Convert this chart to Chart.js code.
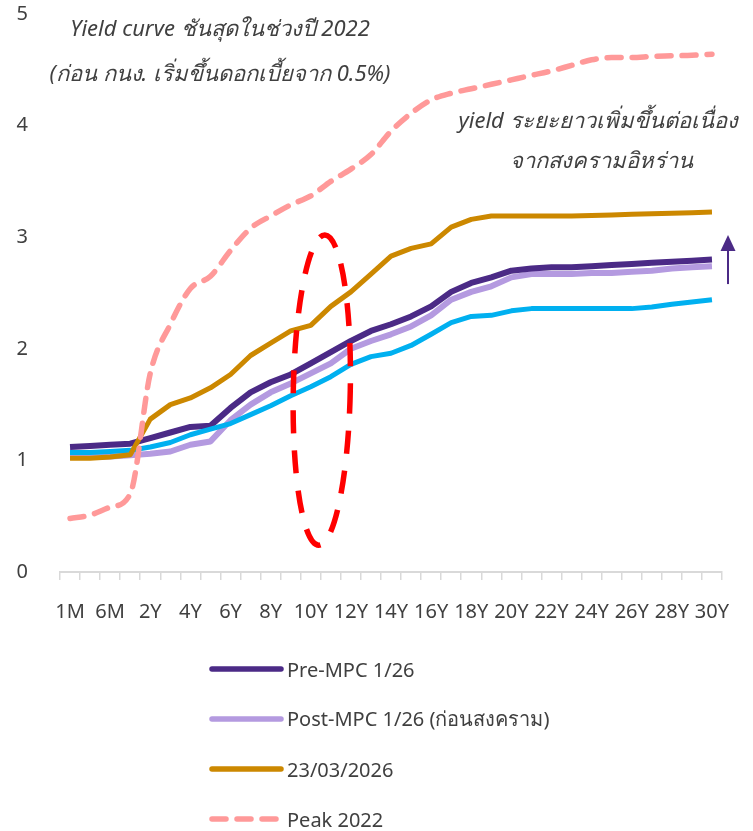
<!DOCTYPE html>
<html>
<head>
<meta charset="utf-8">
<script src="https://cdn.jsdelivr.net/npm/chart.js@4.4.1/dist/chart.umd.min.js"></script>
<style>
    body { margin: 0; background: #fff; font-family: "Noto Sans", "DejaVu Sans", sans-serif; color: #404040; }
    #wrap { position: relative; width: 753px; height: 831px; overflow: hidden; }
    #chartBox { position: absolute; left: 0; top: -30px; width: 753px; height: 675px; }
    .note { position: absolute; font-style: italic; font-size: 22px; white-space: nowrap; transform: translate(-50%, -50%); }
    #legend { position: absolute; left: 209px; top: 644px; }
    .item { display: flex; align-items: center; height: 50px; font-size: 20px; }
    .item svg { margin-right: 3px; }
</style>
</head>
<body>
<div id="wrap">
    <div id="chartBox"><canvas id="curveChart"></canvas></div>
    <div class="note" style="left:220px; top:28px;">Yield curve ชันสุดในช่วงปี 2022</div>
    <div class="note" style="left:220px; top:73px;">(ก่อน กนง. เริ่มขึ้นดอกเบี้ยจาก 0.5%)</div>
    <div class="note" style="left:598px; top:120px;">yield ระยะยาวเพิ่มขึ้นต่อเนื่อง</div>
    <div class="note" style="left:601px; top:160px;">จากสงครามอิหร่าน</div>
    <div id="legend"></div>
</div>
<script>
// Tenors (every other one is labelled on the axis)
const tenors = ['1M', '3M', '6M', '1Y', '2Y', '3Y', '4Y', '5Y', '6Y', '7Y', '8Y', '9Y', '10Y',
    '11Y', '12Y', '13Y', '14Y', '15Y', '16Y', '17Y', '18Y', '19Y', '20Y', '21Y', '22Y',
    '23Y', '24Y', '25Y', '26Y', '27Y', '28Y', '29Y', '30Y'];

// Yields (%)
const preMpc = [1.12, 1.13, 1.14, 1.15, 1.20, 1.25, 1.30, 1.31, 1.47, 1.61, 1.70, 1.77, 1.87,
    1.97, 2.07, 2.16, 2.22, 2.29, 2.38, 2.51, 2.59, 2.64, 2.70, 2.72, 2.73,
    2.73, 2.74, 2.75, 2.76, 2.77, 2.78, 2.79, 2.80];
const postMpc = [1.03, 1.03, 1.035, 1.045, 1.06, 1.08, 1.14, 1.17, 1.36, 1.50, 1.61, 1.69, 1.78,
    1.87, 2.00, 2.07, 2.13, 2.20, 2.30, 2.44, 2.51, 2.56, 2.64, 2.67, 2.67,
    2.67, 2.68, 2.68, 2.69, 2.70, 2.72, 2.73, 2.74];
const curveBlue = [1.07, 1.07, 1.08, 1.09, 1.12, 1.16, 1.23, 1.28, 1.33, 1.41, 1.49, 1.58, 1.66,
    1.75, 1.86, 1.93, 1.96, 2.03, 2.13, 2.235, 2.29, 2.30, 2.34, 2.36, 2.36,
    2.36, 2.36, 2.36, 2.36, 2.375, 2.40, 2.42, 2.44];
const mar2026 = [1.02, 1.02, 1.03, 1.05, 1.37, 1.50, 1.56, 1.65, 1.77, 1.94, 2.05, 2.16, 2.21,
    2.38, 2.51, 2.67, 2.83, 2.90, 2.94, 3.09, 3.16, 3.19, 3.19, 3.19, 3.19,
    3.19, 3.195, 3.20, 3.205, 3.21, 3.215, 3.22, 3.225];
const peak2022 = [0.48, 0.51, 0.58, 0.70, 1.78, 2.22, 2.54, 2.65, 2.88, 3.08, 3.19, 3.29, 3.37,
    3.50, 3.61, 3.74, 3.95, 4.11, 4.23, 4.29, 4.33, 4.37, 4.41, 4.45, 4.49,
    4.54, 4.59, 4.61, 4.61, 4.62, 4.625, 4.63, 4.64];

const yTicks = [0, 1, 2, 3, 4, 5];

// Highlight ring around the 10Y-12Y area (index / yield units) and the upward arrow
const ring = { centre: 12.55, level: 1.63, halfWidth: 1.42, halfHeight: 1.39 };
const arrow = { at: 32.8, from: 2.58, to: 3.02 };

const PURPLE = '#4b2a86';
const LILAC = '#b49ae0';
const BLUE = '#00b0f0';
const GOLD = '#cc8800';
const PINK = '#ff9999';
const TEXT = '#404040';

const datasets = [
    { label: 'Peak 2022', data: peak2022, borderColor: PINK, borderWidth: 5.5,
      borderDash: [14, 11], borderCapStyle: 'round', cubicInterpolationMode: 'monotone', order: 0 },
    { label: '23/03/2026', data: mar2026, borderColor: GOLD, borderWidth: 5, order: 1 },
    { label: '', data: curveBlue, borderColor: BLUE, borderWidth: 5, order: 2 },
    { label: 'Pre-MPC 1/26', data: preMpc, borderColor: PURPLE, borderWidth: 6, order: 3 },
    { label: 'Post-MPC 1/26 (ก่อนสงคราม)', data: postMpc, borderColor: LILAC, borderWidth: 6, order: 4 }
];
datasets.forEach(d => {
    d.pointRadius = 0;
    d.pointHoverRadius = 0;
    d.borderJoinStyle = 'round';
    d.fill = false;
});

// Dashed ring and arrow drawn on top of the lines
const overlay = {
    id: 'overlay',
    afterDatasetsDraw(chart) {
        const { ctx, scales: { x, y } } = chart;
        const cx = x.getPixelForValue(ring.centre);
        const cy = y.getPixelForValue(ring.level);
        const rx = x.getPixelForValue(ring.centre + ring.halfWidth) - cx;
        const ry = cy - y.getPixelForValue(ring.level + ring.halfHeight);
        ctx.save();
        ctx.strokeStyle = '#ff0000';
        ctx.lineWidth = 5.5;
        ctx.setLineDash([23, 17]);
        ctx.beginPath();
        ctx.ellipse(cx, cy, rx, ry, 0.02, 0, Math.PI * 2);
        ctx.stroke();
        ctx.restore();

        const ax = x.getPixelForValue(arrow.at);
        const y0 = y.getPixelForValue(arrow.from);
        const y1 = y.getPixelForValue(arrow.to);
        ctx.save();
        ctx.strokeStyle = PURPLE;
        ctx.fillStyle = PURPLE;
        ctx.lineWidth = 2;
        ctx.beginPath();
        ctx.moveTo(ax, y0);
        ctx.lineTo(ax, y1 + 14);
        ctx.stroke();
        ctx.beginPath();
        ctx.moveTo(ax, y1);
        ctx.lineTo(ax - 7.5, y1 + 16);
        ctx.lineTo(ax + 7.5, y1 + 16);
        ctx.closePath();
        ctx.fill();
        ctx.restore();
    }
};

const ctx = document.getElementById('curveChart').getContext('2d');
const curveChart = new Chart(ctx, {
    type: 'line',
    data: { labels: tenors, datasets: datasets },
    options: {
        responsive: true,
        maintainAspectRatio: false,
        animation: false,
        layout: { padding: { top: 12, right: 31, left: 0, bottom: 0 } },
        plugins: {
            legend: { display: false },
            tooltip: { enabled: false }
        },
        scales: {
            x: {
                offset: true,
                grid: { offset: true, drawOnChartArea: false, drawTicks: true, tickLength: 8, color: '#d9d9d9', lineWidth: 1.5 },
                border: { display: true, color: '#d9d9d9', width: 2 },
                ticks: {
                    autoSkip: false,
                    maxRotation: 0,
                    padding: 20,
                    color: TEXT,
                    font: { size: 20, family: '"Noto Sans", "DejaVu Sans", sans-serif' },
                    callback: function(value, index) {
                        return index % 2 === 0 ? tenors[index] : '';
                    }
                },
                afterFit: function(scale) { scale.height = 73; }
            },
            y: {
                min: 0,
                max: 5,
                afterBuildTicks: function(scale) { scale.ticks = yTicks.map(v => ({ value: v })); },
                grid: { display: false, drawTicks: false },
                border: { display: false },
                ticks: {
                    padding: 32,
                    color: TEXT,
                    font: { size: 20, family: '"Noto Sans", "DejaVu Sans", sans-serif' }
                },
                afterFit: function(scale) { scale.width = 60; }
            }
        }
    },
    plugins: [overlay]
});

// Legend in a single column, built from the datasets
function buildLegend() {
    const legend = document.getElementById('legend');
    const shown = ['Pre-MPC 1/26', 'Post-MPC 1/26 (ก่อนสงคราม)', '23/03/2026', 'Peak 2022'];
    shown.forEach(name => {
        const ds = curveChart.data.datasets.find(d => d.label === name);
        const dash = ds.borderDash ? 'stroke-dasharray="14 11"' : '';
        const row = document.createElement('div');
        row.className = 'item';
        row.innerHTML = `
            <svg width="75" height="12"><line x1="3" y1="6" x2="72" y2="6" stroke="${ds.borderColor}"
                stroke-width="5.5" stroke-linecap="round" ${dash}/></svg>
            <span>${ds.label}</span>`;
        legend.appendChild(row);
    });
}
buildLegend();
</script>
</body>
</html>
